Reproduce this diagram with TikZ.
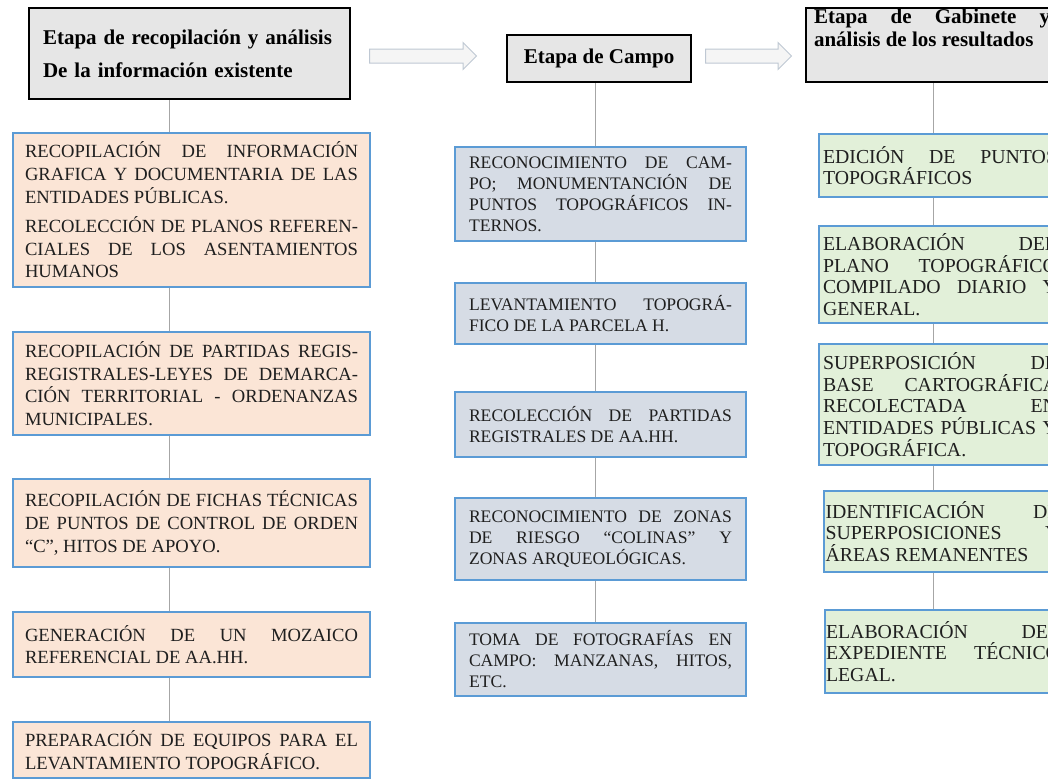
\documentclass[tikz,border=0pt]{standalone}
\usepackage{fontspec}
\setmainfont{Liberation Serif}
\usepackage{xcolor}
\usetikzlibrary{shapes.arrows}
\definecolor{marco}{HTML}{5B9BD5}
\definecolor{durazno}{HTML}{FBE5D6}
\definecolor{grisazul}{HTML}{D6DCE5}
\definecolor{verdecla}{HTML}{E2F0D9}
\definecolor{cabeza}{HTML}{E6E6E6}
\definecolor{flechagris}{HTML}{BFC8D3}
\setlength{\parindent}{0pt}
\tolerance=10000 \hyphenpenalty=10000 \exhyphenpenalty=10000
\hbadness=10000 \hfuzz=3pt

\begin{document}
\begin{tikzpicture}[x=1pt,y=-1pt,
        etapa/.style={draw=black,line width=2.4pt,fill=cabeza,inner sep=0pt,
                      font=\bfseries\fontsize{21}{23}\selectfont},
        paso/.style={draw=marco,line width=2.4pt,inner sep=0pt,align=justify,
                     text=black!88},
        recop/.style={paso,fill=durazno,text width=333pt,minimum width=357pt,
                      font=\fontsize{18.6}{22.6}\selectfont},
        campo/.style={paso,fill=grisazul,text width=263pt,minimum width=291pt,
                      font=\fontsize{17.6}{21}\selectfont},
        gab/.style={paso,fill=verdecla,text width=234pt,minimum width=242pt,
                    font=\fontsize{19.8}{21.6}\selectfont},
        enlace/.style={draw=gray!70,line width=1pt},
        flecha/.style={single arrow,draw=flechagris,fill=gray!8,line width=1pt,
                       single arrow head extend=6.5pt,inner sep=0pt,
                       text height=13pt,text depth=0pt,minimum height=107pt}]
        \useasboundingbox (0,0) rectangle (1048,782);
        \clip (0,0) rectangle (1048,782);
        % headers
        \node[etapa,text width=293pt,minimum width=321pt,minimum height=91pt,align=left,
              font=\bfseries\fontsize{21}{33}\selectfont] (hA) at (189.5,53.5)
              {Etapa de recopilación y análisis\\De la información existente};
        \node[etapa,minimum width=184pt,minimum height=47pt] (hB) at (599,58.5) {Etapa de Campo};
        \node[etapa,minimum width=252pt,minimum height=74pt] (hC) at (932,45)
              {\parbox[c][72pt][t]{236pt}{Etapa de Gabinete y\linebreak análisis de los resultados}};
        \node[flecha] (fAB) at (419.5,56) {};
        \node[flecha,minimum height=86pt] (fBC) at (745,56) {};
        % left column
        \node[recop,minimum height=154pt] (lA1) at (191.5,210)
              {RECOPILACIÓN DE INFORMACIÓN\linebreak GRAFICA Y DOCUMENTARIA DE LAS\linebreak
               ENTIDADES PÚBLICAS.\\[7pt]RECOLECCIÓN DE PLANOS REFEREN-\linebreak
               CIALES DE LOS ASENTAMIENTOS\linebreak HUMANOS};
        \node[recop,minimum height=103pt] (lA2) at (191.5,383.5)
              {RECOPILACIÓN DE PARTIDAS REGIS-\linebreak REGISTRALES-LEYES DE DEMARCA-\linebreak
               CIÓN TERRITORIAL - ORDENANZAS\linebreak MUNICIPALES.};
        \node[recop,minimum height=88pt] (lA3) at (191.5,523)
              {RECOPILACIÓN DE FICHAS TÉCNICAS\linebreak DE PUNTOS DE CONTROL DE ORDEN\linebreak
               “C”, HITOS DE APOYO.};
        \node[recop,minimum height=65pt] (lA4) at (191.5,644.5)
              {GENERACIÓN DE UN MOZAICO\linebreak REFERENCIAL DE AA.HH.};
        \node[recop,minimum height=56pt] (lA5) at (191.5,750)
              {PREPARACIÓN DE EQUIPOS PARA EL\linebreak LEVANTAMIENTO TOPOGRÁFICO.};
        % middle column
        \node[campo,minimum height=94pt] (mB1) at (600.5,194)
              {RECONOCIMIENTO DE CAM-\linebreak PO; MONUMENTANCIÓN DE\linebreak
               PUNTOS TOPOGRÁFICOS IN-\linebreak TERNOS.};
        \node[campo,minimum height=61pt] (mB2) at (600.5,313.5)
              {LEVANTAMIENTO TOPOGRÁ-\linebreak FICO DE LA PARCELA H.};
        \node[campo,minimum height=65pt] (mB3) at (600.5,424.5)
              {RECOLECCIÓN DE PARTIDAS\linebreak REGISTRALES DE AA.HH.};
        \node[campo,minimum height=82pt] (mB4) at (600.5,539)
              {RECONOCIMIENTO DE ZONAS\linebreak DE RIESGO “COLINAS” Y\linebreak
               ZONAS ARQUEOLÓGICAS.};
        \node[campo,minimum height=73pt] (mB5) at (600.5,659.5)
              {TOMA DE FOTOGRAFÍAS EN\linebreak CAMPO: MANZANAS, HITOS,\linebreak ETC.};
        % right column
        \node[gab,minimum height=63pt] (rC1) at (940,165.5)
              {EDICIÓN DE PUNTOS\linebreak TOPOGRÁFICOS};
        \node[gab,minimum height=97pt] (rC2) at (940,274.5)
              {ELABORACIÓN DEL\linebreak PLANO TOPOGRÁFICO\linebreak
               COMPILADO DIARIO Y\linebreak GENERAL.};
        \node[gab,minimum height=121pt] (rC3) at (940,404.5)
              {SUPERPOSICIÓN DE\linebreak BASE CARTOGRÁFICA\linebreak RECOLECTADA EN\linebreak
               ENTIDADES PÚBLICAS Y\linebreak TOPOGRÁFICA.};
        \node[gab,minimum width=237pt,minimum height=81pt] (rC4) at (942.5,531.5)
              {IDENTIFICACIÓN DE\linebreak SUPERPOSICIONES Y\linebreak ÁREAS REMANENTES};
        \node[gab,minimum width=236pt,minimum height=83pt] (rC5) at (943,651.5)
              {ELABORACIÓN DEL\linebreak EXPEDIENTE TÉCNICO\linebreak LEGAL.};
        % connectors
        \coordinate (cA) at (169,0);
        \coordinate (cB) at (595,0);
        \coordinate (cC) at (933,0);
        \foreach \a/\b in {hA/lA1,lA1/lA2,lA2/lA3,lA3/lA4,lA4/lA5}
          \draw[enlace] (\a.south -| cA) -- (\b.north -| cA);
        \foreach \a/\b in {hB/mB1,mB1/mB2,mB2/mB3,mB3/mB4,mB4/mB5}
          \draw[enlace] (\a.south -| cB) -- (\b.north -| cB);
        \foreach \a/\b in {hC/rC1,rC1/rC2,rC2/rC3,rC3/rC4,rC4/rC5}
          \draw[enlace] (\a.south -| cC) -- (\b.north -| cC);
      \end{tikzpicture}
\end{document}
